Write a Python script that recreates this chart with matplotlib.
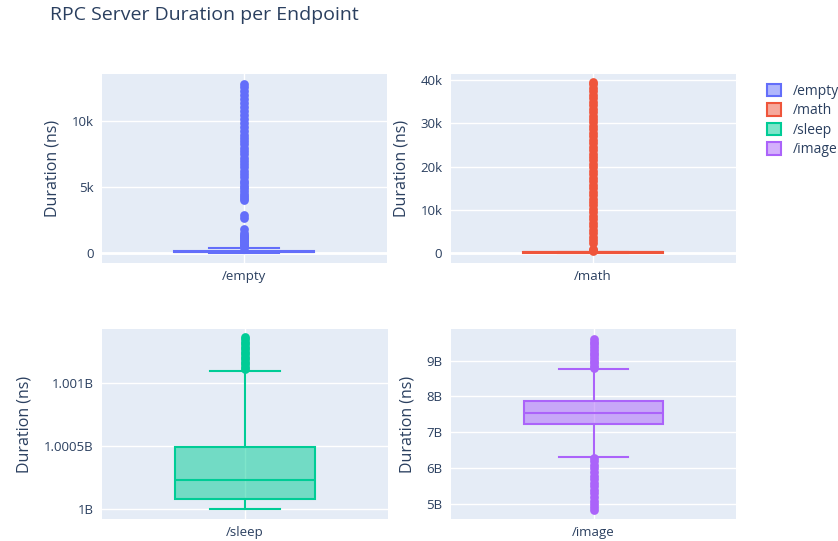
import numpy as np
import matplotlib.pyplot as plt
from matplotlib.patches import Patch

plt.rcParams['font.family'] = ['Open Sans', 'DejaVu Sans']

endpoints = ['/empty', '/math', '/sleep', '/image']
colors = ['#636EFA', '#EF553B', '#00CC96', '#AB63FA']

# box stats (ns)
q1 = [40, 90, 1000084000, 7.233e9]
med = [100, 150, 1000233000, 7.547e9]
q3 = [170, 230, 1000495000, 7.861e9]
whislo = [10, 20, 1000000000, 6.325e9]
whishi = [340, 310, 1001100000, 8.76e9]

fliers_empty = [400, 500, 600, 700, 800, 900, 1000, 1100, 1200, 1300, 1400,
                1550, 1850, 2650, 2900,
                4050, 4200, 4350, 4500, 4700, 4900, 5100, 5300, 5500, 5750,
                6000, 6250, 6500, 6750, 7000, 7250, 7500, 7750, 8000, 8250,
                8500, 8750, 9000, 9300, 9600, 9900, 10200, 10500, 10800,
                11100, 11400, 11700, 12000, 12300, 12600, 12850]
fliers_math = [400, 700, 1000, 2300, 3000, 3800, 4600, 5400, 6200, 7000,
               7800, 8600, 9400, 10200, 11000, 11800, 12600, 13400, 14200,
               15000, 15800, 16600, 17400, 18200, 19000, 19800, 20600, 21400,
               22200, 23000, 23800, 24600, 25400, 26200, 27000, 27800, 28600,
               29400, 30200, 31000, 31800, 32600, 33400, 34200, 35000, 35800,
               36600, 37400, 38200, 39000, 39500]
fliers_sleep = [1001110000, 1001130000, 1001150000, 1001170000, 1001190000,
                1001210000, 1001230000, 1001250000, 1001270000, 1001290000,
                1001310000, 1001330000, 1001350000, 1001370000]
fliers_image = [8.78e9, 8.85e9, 8.93e9, 9.0e9, 9.08e9, 9.15e9, 9.22e9, 9.3e9,
                9.38e9, 9.45e9, 9.52e9, 9.6e9,
                6.28e9, 6.2e9, 6.1e9, 6.0e9, 5.9e9, 5.8e9, 5.7e9, 5.6e9,
                5.5e9, 5.4e9, 5.3e9, 5.2e9, 5.1e9, 5.0e9, 4.92e9, 4.83e9]
fliers = [fliers_empty, fliers_math, fliers_sleep, fliers_image]

yticks = [[0, 5000, 10000],
          [0, 10000, 20000, 30000, 40000],
          [1e9, 1.0005e9, 1.001e9],
          [5e9, 6e9, 7e9, 8e9, 9e9]]
yticklabels = [['0', '5k', '10k'],
               ['0', '10k', '20k', '30k', '40k'],
               ['1B', '1.0005B', '1.001B'],
               ['5B', '6B', '7B', '8B', '9B']]
ylims = [(-740, 13600), (-2240, 41400), (0.999923e9, 1.0014286e9), (4.59e9, 9.872e9)]

txt = '#2a3f5f'
bg = '#E5ECF6'

fig = plt.figure(figsize=(8.38, 5.41), dpi=100)
pos = [[0.1214, 0.5144, 0.3404, 0.3488],
       [0.5378, 0.5144, 0.3401, 0.3488],
       [0.1214, 0.0407, 0.3414, 0.3507],
       [0.5382, 0.0407, 0.3401, 0.3507]]

for i in range(4):
    ax = fig.add_axes(pos[i])
    ax.set_facecolor(bg)
    for s in ax.spines.values():
        s.set_visible(False)
    c = colors[i]
    stats = [dict(med=med[i], q1=q1[i], q3=q3[i], whislo=whislo[i],
                  whishi=whishi[i], fliers=fliers[i])]
    ax.bxp(stats, positions=[0], widths=0.49, capwidths=0.245,
           patch_artist=True, manage_ticks=False,
           boxprops=dict(facecolor=c + '80', edgecolor=c, linewidth=1.5),
           medianprops=dict(color=c, linewidth=1.5),
           whiskerprops=dict(color=c, linewidth=1.5),
           capprops=dict(color=c, linewidth=1.5),
           flierprops=dict(marker='o', markersize=6.3, markerfacecolor=c,
                           markeredgecolor=c, markeredgewidth=0, linestyle='none'),
           zorder=3)
    ax.set_xlim(-0.5, 0.5)
    ax.set_ylim(*ylims[i])
    ax.set_yticks(yticks[i], yticklabels[i])
    ax.set_xticks([0], [endpoints[i]])
    ax.tick_params(length=0, labelsize=9.5, labelcolor=txt, pad=6)
    ax.tick_params(axis='x', pad=5)
    ax.grid(True, color='white', linewidth=1, zorder=0)
    ax.set_axisbelow(True)
    if i < 2:
        ax.axhline(0, color='white', linewidth=2, zorder=1)
    ax.set_ylabel('Duration (ns)', fontsize=11.5, color=txt, labelpad=8)

handles = [Patch(facecolor=colors[i] + '80', edgecolor=colors[i], linewidth=1.5,
                 label=endpoints[i]) for i in range(4)]
fig.legend(handles=handles, loc='upper left', bbox_to_anchor=(0.9, 0.868),
           frameon=False, fontsize=10, labelcolor=txt, handlelength=1.0,
           handleheight=1.0, handletextpad=0.9, labelspacing=0.32)

fig.text(0.06, 0.988, 'RPC Server Duration per Endpoint', fontsize=14,
         color=txt, va='top', ha='left')

fig.savefig('out.png', dpi=100)
